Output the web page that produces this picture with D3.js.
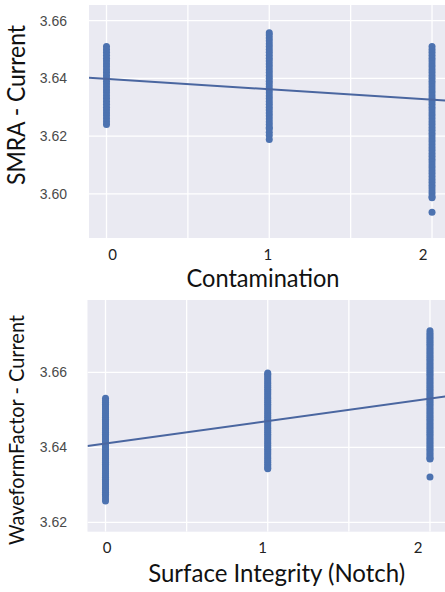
<!DOCTYPE html>
<html><head><meta charset="utf-8">
<script src="https://cdn.jsdelivr.net/npm/d3@7"></script>
<style>html,body{margin:0;padding:0;background:#fff;overflow:hidden}</style>
</head><body>
<svg id="c" width="445" height="592"></svg>
<script>
// ---------------- data ----------------
const xCategories = [0, 1, 2];
const xGridTicks = [0, 0.5, 1, 1.5, 2];

// Panel 1: SMRA - Current vs Contamination
const smraCat0 = [3.651,3.650,3.649,3.648,3.647,3.646,3.645,3.644,3.643,3.642,3.641,3.640,3.639,3.638,3.637,3.636,3.635,3.634,3.633,3.632,3.631,3.630,3.629,3.628,3.627,3.626,3.625,3.624];
const smraCat1 = [3.6558,3.655,3.654,3.653,3.652,3.651,3.650,3.649,3.648,3.647,3.646,3.645,3.644,3.643,3.642,3.641,3.640,3.639,3.638,3.637,3.636,3.635,3.634,3.633,3.632,3.631,3.630,3.629,3.628,3.627,3.626,3.625,3.624,3.623,3.6225,3.6213,3.6202,3.6188];
const smraCat2 = [3.651,3.650,3.649,3.648,3.647,3.646,3.645,3.644,3.643,3.642,3.641,3.640,3.639,3.638,3.637,3.636,3.635,3.634,3.633,3.632,3.631,3.630,3.629,3.628,3.627,3.626,3.625,3.624,3.623,3.622,3.621,3.620,3.619,3.618,3.617,3.616,3.615,3.614,3.613,3.612,3.611,3.610,3.609,3.608,3.607,3.606,3.605,3.604,3.603,3.602,3.601,3.600,3.599,3.5986,3.5936];
const smraFitIntercept = 3.6398;
const smraFitSlope = -0.0036;
const smraYTicks = [3.60, 3.62, 3.64, 3.66];

// Panel 2: WaveformFactor - Current vs Surface Integrity (Notch)
const wffCat0 = [3.6531,3.6525,3.652,3.6515,3.651,3.6505,3.650,3.6495,3.649,3.6485,3.648,3.6475,3.647,3.6465,3.646,3.6455,3.645,3.6445,3.644,3.6435,3.643,3.6425,3.642,3.6415,3.641,3.6405,3.640,3.6395,3.639,3.6385,3.638,3.6375,3.637,3.6365,3.636,3.6355,3.635,3.6345,3.634,3.6335,3.633,3.6325,3.632,3.6315,3.631,3.6305,3.630,3.6295,3.629,3.6285,3.628,3.6275,3.627,3.6263,3.6257];
const wffCat1 = [3.6598,3.6595,3.659,3.6585,3.658,3.6575,3.657,3.6565,3.656,3.6555,3.655,3.6545,3.654,3.6535,3.653,3.6525,3.652,3.6515,3.651,3.6505,3.650,3.6495,3.649,3.6485,3.648,3.6475,3.647,3.6465,3.646,3.6455,3.645,3.6445,3.644,3.6435,3.643,3.6425,3.642,3.6415,3.641,3.6405,3.640,3.6395,3.639,3.6385,3.638,3.6375,3.637,3.6365,3.636,3.6355,3.635,3.6345,3.6343];
const wffCat2 = [3.6711,3.6705,3.670,3.6695,3.669,3.6685,3.668,3.6675,3.667,3.6665,3.666,3.6655,3.665,3.6645,3.664,3.6635,3.663,3.6625,3.662,3.6615,3.661,3.6605,3.660,3.6595,3.659,3.6585,3.658,3.6575,3.657,3.6565,3.656,3.6555,3.655,3.6545,3.654,3.6535,3.653,3.6525,3.652,3.6515,3.651,3.6505,3.650,3.6495,3.649,3.6485,3.648,3.6475,3.647,3.6465,3.646,3.6455,3.645,3.6445,3.644,3.6435,3.643,3.6425,3.642,3.6415,3.641,3.6405,3.640,3.6395,3.639,3.6385,3.638,3.6375,3.637,3.6369,3.6321];
const wffFitIntercept = 3.6410;
const wffFitSlope = 0.0060;
const wffYTicks = [3.62, 3.64, 3.66];

// ---------------- drawing ----------------
const svg = d3.select("#c");
const BG = "#eaeaf2", BLUE = "#4c72b0", LINE = "#4a66a0";
const titleFont = "Lato, 'Open Sans', sans-serif";

function panel(cfg) {
  const g = svg.append("g");
  const x = d3.scaleLinear().domain(cfg.xDomain).range([cfg.left, cfg.right]);
  const y = d3.scaleLinear().domain(cfg.yDomain).range([cfg.bottom, cfg.top]);
  const xl = d3.scaleLinear().domain([0, 2]).range(cfg.labelRange);
  const id = "clip" + cfg.id;
  g.append("clipPath").attr("id", id).append("rect")
    .attr("x", cfg.left).attr("y", cfg.top)
    .attr("width", cfg.right - cfg.left).attr("height", cfg.bottom - cfg.top);
  g.append("rect").attr("x", cfg.left).attr("y", cfg.top)
    .attr("width", cfg.right - cfg.left).attr("height", cfg.bottom - cfg.top)
    .attr("fill", BG);
  const grid = g.append("g").attr("clip-path", `url(#${id})`);
  grid.selectAll(".vg").data(xGridTicks).join("line")
    .attr("x1", d => x(d)).attr("x2", d => x(d))
    .attr("y1", cfg.top).attr("y2", cfg.bottom)
    .attr("stroke", "#fff").attr("stroke-width", 1.3);
  grid.selectAll(".hg").data(cfg.yTicks).join("line")
    .attr("x1", cfg.left).attr("x2", cfg.right)
    .attr("y1", d => y(d)).attr("y2", d => y(d))
    .attr("stroke", "#fff").attr("stroke-width", 1.3);

  const pts = [];
  cfg.cols.forEach((vals, i) => vals.forEach(v => pts.push({x: xCategories[i], y: v})));
  const marks = g.append("g").attr("clip-path", `url(#${id})`);
  marks.selectAll("circle").data(pts).join("circle")
    .attr("cx", d => x(d.x)).attr("cy", d => y(d.y))
    .attr("r", 3.5).attr("fill", BLUE);
  const xs = cfg.xDomain;
  marks.append("line")
    .attr("x1", x(xs[0])).attr("y1", y(cfg.b0 + cfg.b1 * xs[0]))
    .attr("x2", x(xs[1])).attr("y2", y(cfg.b0 + cfg.b1 * xs[1]))
    .attr("stroke", LINE).attr("stroke-width", 2);

  // y tick labels
  g.selectAll(".yt").data(cfg.yTicks).join("text")
    .attr("x", 67).attr("y", d => y(d)).attr("dy", "0.36em")
    .attr("text-anchor", "end")
    .attr("font-family", "'Liberation Sans', Arial, sans-serif")
    .attr("font-size", 14).attr("fill", "#4a4a4a")
    .text(d => d3.format(".2f")(d));
  // x tick labels
  g.selectAll(".xt").data(xCategories).join("text")
    .attr("x", d => xl(d)).attr("y", cfg.xTickBase)
    .attr("text-anchor", "middle")
    .attr("font-family", titleFont).attr("font-size", 15).attr("fill", "#222")
    .text(d => d);
  // axis titles
  g.append("text").attr("x", cfg.xTitle[0]).attr("y", cfg.xTitle[1])
    .attr("text-anchor", "middle").attr("font-family", titleFont)
    .attr("font-size", cfg.xTitle[3]).attr("fill", "#111")
    .attr("textLength", cfg.xTitle[2]).attr("lengthAdjust", "spacingAndGlyphs")
    .text(cfg.xLabel);
  g.append("text")
    .attr("transform", `translate(${cfg.yTitle[0]},${cfg.yTitle[1]}) rotate(-90)`)
    .attr("text-anchor", "middle").attr("font-family", titleFont)
    .attr("font-size", cfg.yTitle[3]).attr("fill", "#111")
    .attr("textLength", cfg.yTitle[2]).attr("lengthAdjust", "spacingAndGlyphs")
    .text(cfg.yLabel);
}

panel({
  id: 1, left: 89, right: 448.3, top: 5, bottom: 238,
  xDomain: [-0.1075, 2.1], yDomain: [3.5847, 3.6654],
  labelRange: [112.7, 423], xTickBase: 259.5,
  cols: [smraCat0, smraCat1, smraCat2], b0: smraFitIntercept, b1: smraFitSlope,
  yTicks: smraYTicks,
  xLabel: "Contamination", xTitle: [263, 287, 153, 25],
  yLabel: "SMRA - Current", yTitle: [25, 105, 160, 25]
});
panel({
  id: 2, left: 87.5, right: 446.2, top: 300, bottom: 531.7,
  xDomain: [-0.111, 2.1], yDomain: [3.6175, 3.6793],
  labelRange: [107, 418], xTickBase: 553,
  cols: [wffCat0, wffCat1, wffCat2], b0: wffFitIntercept, b1: wffFitSlope,
  yTicks: wffYTicks,
  xLabel: "Surface Integrity (Notch)", xTitle: [276.7, 582, 257, 25],
  yLabel: "WaveformFactor - Current", yTitle: [24, 430, 230, 21]
});
</script>
</body></html>
